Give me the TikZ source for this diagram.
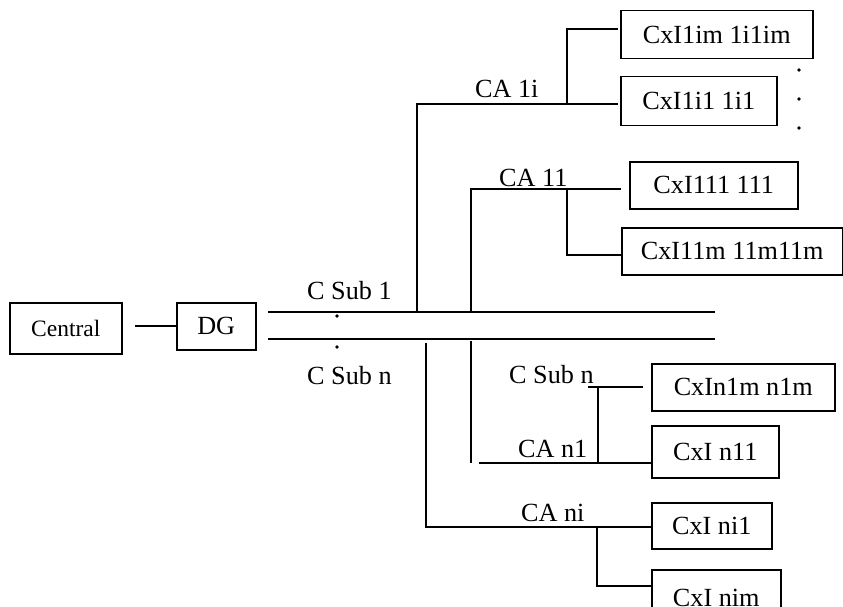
\documentclass[tikz,border=0pt]{standalone}
\usepackage{fontspec}
\setmainfont{Liberation Serif}
\begin{document}
\begin{tikzpicture}[x=1pt,y=-1pt,
  every node/.style={font=\fontsize{26.2}{30}\selectfont},
  wire/.style={line width=1.5pt},
  cbox/.style={draw,line width=1.5pt,inner sep=0pt,anchor=north west},
  lbl/.style={anchor=base west,inner sep=0pt},
  dotmark/.style={circle,fill=black,inner sep=0pt,minimum size=3.6pt}]
\path[use as bounding box] (0,0) rectangle (843,607);
\clip (0,0) rectangle (843,607);
% main boxes
\node[cbox,minimum width=112,minimum height=51,font=\fontsize{23.5}{27}\selectfont] (central) at (9,302) {Central};
\node[cbox,minimum width=79,minimum height=47] (dg) at (176,302) {DG};
% right boxes
\node[cbox,minimum width=192,minimum height=48] (b1) at (620,10) {CxI1im 1i1im};
\node[cbox,minimum width=156,minimum height=49] (b2) at (620,76) {CxI1i1 1i1};
\node[cbox,minimum width=168,minimum height=47] (b3) at (629,161) {CxI111 111};
\node[cbox,minimum width=221,minimum height=47] (b4) at (621,227) {CxI11m 11m11m};
\node[cbox,minimum width=183,minimum height=47] (b5) at (651,363) {CxIn1m n1m};
\node[cbox,minimum width=127,minimum height=52] (b6) at (651,425) {CxI n11};
\node[cbox,minimum width=120,minimum height=46] (b7) at (651,502) {CxI ni1};
\node[cbox,minimum width=129,minimum height=56] (b8) at (651,569) {CxI nim};
% labels
\node[lbl] (lsub1) at (307,299) {C Sub 1};
\node[lbl] (lsubn) at (307,384) {C Sub n};
\node[lbl] (lca1i) at (475,98) {CA 1i};
\node[lbl] (lca11) at (499,186) {CA 11};
\node[lbl] (lsubn2) at (509,383) {C Sub n};
\node[lbl] (lcan1) at (518,457) {CA n1};
\node[lbl] (lcani) at (521,521) {CA ni};
% dots
\node[dotmark] (d1) at (337,316) {};
\node[dotmark] (d2) at (337,347) {};
\node[dotmark] (d3) at (337,375) {};
\node[dotmark] (r1) at (799,70) {};
\node[dotmark] (r2) at (799,99) {};
\node[dotmark] (r3) at (799,128) {};
% coordinates
\coordinate (cdg) at (135,326);
\coordinate (l1a) at (268,312); \coordinate (l1b) at (715,312);
\coordinate (l2a) at (268,339); \coordinate (l2b) at (715,339);
\coordinate (v1b) at (417,312); \coordinate (v1t) at (417,104);
\coordinate (j1) at (567,104); \coordinate (j1t) at (567,29);
\coordinate (e1) at (618,29); \coordinate (e2) at (618,104);
\coordinate (v2b) at (471,312); \coordinate (v2t) at (471,189);
\coordinate (j2) at (567,189); \coordinate (j2b) at (567,255);
\coordinate (e3) at (621,189);
\coordinate (v3t) at (471,341); \coordinate (v3b) at (471,463);
\coordinate (h3a) at (479,463); \coordinate (j3) at (598,463);
\coordinate (j3t) at (598,387); \coordinate (h4a) at (588,387); \coordinate (h4b) at (643,387);
\coordinate (v4t) at (426,343); \coordinate (v4b) at (426,527);
\coordinate (j4) at (597,527); \coordinate (j4b) at (597,586);
% connectors
\draw[wire] (cdg) -- (dg.west |- cdg);
\draw[wire] (l1a) -- (l1b);
\draw[wire] (l2a) -- (l2b);
\draw[wire] (v1b) -- (v1t) -- (e2);
\draw[wire] (j1) -- (j1t) -- (e1);
\draw[wire] (v2b) -- (v2t) -- (e3);
\draw[wire] (j2) -- (j2b) -- (b4.west |- j2b);
\draw[wire] (v3t) -- (v3b);
\draw[wire] (h3a) -- (b6.west |- h3a);
\draw[wire] (j3) -- (j3t);
\draw[wire] (h4a) -- (h4b);
\draw[wire] (v4t) -- (v4b) -- (b7.west |- v4b);
\draw[wire] (j4) -- (j4b) -- (b8.west |- j4b);
\end{tikzpicture}
\end{document}
